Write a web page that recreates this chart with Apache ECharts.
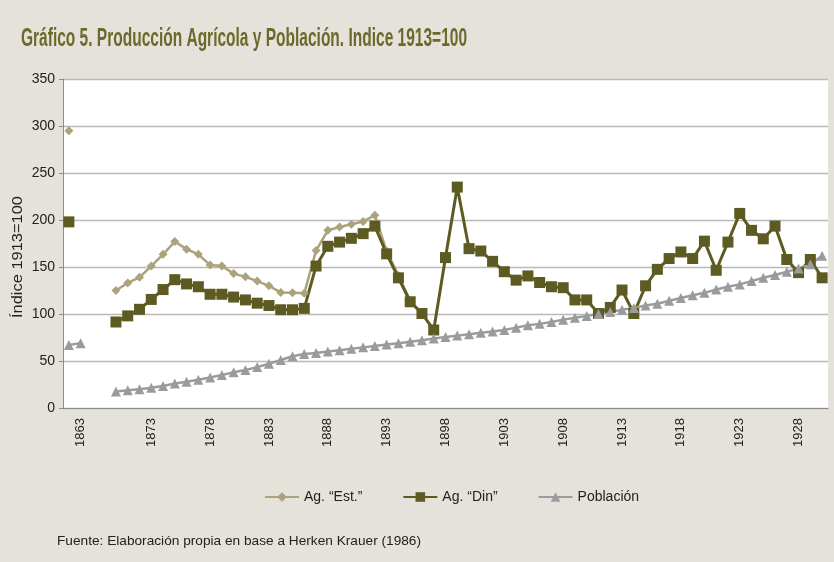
<!DOCTYPE html>
<html>
<head>
<meta charset="utf-8">
<script src="https://cdn.jsdelivr.net/npm/echarts@6/dist/echarts.min.js"></script>
<style>
  html, body { margin: 0; padding: 0; background: #e4e2da; }
  #chart { width: 834px; height: 562px; }
</style>
</head>
<body>
<div id="chart"></div>
<script>
// categorias (años); 1864 y 1869 sin datos
const years = ['1862', '1863', '1864', '1869',
  '1870', '1871', '1872', '1873', '1874', '1875', '1876', '1877', '1878', '1879',
  '1880', '1881', '1882', '1883', '1884', '1885', '1886', '1887', '1888', '1889',
  '1890', '1891', '1892', '1893', '1894', '1895', '1896', '1897', '1898', '1899',
  '1900', '1901', '1902', '1903', '1904', '1905', '1906', '1907', '1908', '1909',
  '1910', '1911', '1912', '1913', '1914', '1915', '1916', '1917', '1918', '1919',
  '1920', '1921', '1922', '1923', '1924', '1925', '1926', '1927', '1928', '1929',
  '1930']
const labelYears = ['1863', '1873', '1878', '1883', '1888', '1893', '1898',
  '1903', '1908', '1913', '1918', '1923', '1928']

const agEst = [295, null, null, null,
  125, 133, 139, 151, 163.5, 177, 169, 163.5, 152, 151,
  143, 139.5, 135, 130, 123, 122.5, 122, 167.5, 189, 192.5,
  195.5, 198.5, 205, 167, 141, 114, 101, null, null, null,
  null, null, null, null, null, null, null, null, null, null,
  null, null, null, null, null, null, null, null, null, null,
  null, null, null, null, null, null, null, null, null, null,
  null]
const agDin = [198, null, null, null,
  91.5, 98, 105, 115.5, 126, 136.5, 132, 129, 121, 121,
  118, 115, 111.5, 109, 104.5, 104.5, 106, 151, 172, 176.5,
  180.5, 185.5, 193.5, 164, 138.5, 113, 100.5, 83, 160, 235,
  169.5, 167, 156, 145, 136, 140.5, 133.5, 129, 128, 115,
  115, 100.5, 107, 125.5, 100.5, 130, 147.5, 159, 166, 159,
  177.5, 146.5, 176.5, 207, 189, 180, 193.5, 158, 144, 158,
  138.5]
const poblacion = [67, 69, null, null,
  17.5, 19, 20, 21.5, 23.5, 26, 28, 30, 32.5, 35,
  38, 40.5, 43.5, 47, 51, 55, 57.5, 58.5, 60, 61.5,
  63, 64.5, 66, 67.5, 69, 70.5, 72, 74, 75.5, 77,
  78.5, 80, 81.5, 83, 85.5, 88, 89.5, 91.5, 94, 96,
  98, 100, 102, 104.5, 106.5, 109, 111, 114, 117, 120,
  122.5, 126, 129, 131.5, 135, 138.5, 141.5, 145, 148.5, 153,
  162]

const titulo = 'Gráfico 5. Producción Agrícola y Población. Indice 1913=100'
const fuente = 'Fuente: Elaboración propia en base a Herken Krauer (1986)'
const ejeY = 'Índice 1913=100'

const fontFam = '"Liberation Sans", Arial, sans-serif'

// ancho de texto para comprimir (la fuente original es condensada)
function fitScale (text, font, target) {
  let ctx = document.createElement('canvas').getContext('2d')
  ctx.font = font
  return target / ctx.measureText(text).width
}

const titleFont = 'bold 25px ' + fontFam
const footFont = '13px ' + fontFam
const nameFont = '14px ' + fontFam

let myChart = echarts.init(document.getElementById('chart'))
let option = {
  backgroundColor: '#e4e2da',
  animation: false,
  textStyle: { fontFamily: fontFam },
  grid: {
    show: true,
    backgroundColor: '#fff',
    borderWidth: 0,
    left: 63,
    right: 6,
    top: 79,
    bottom: 154
  },
  legend: {
    left: 259,
    top: 485,
    itemWidth: 34,
    itemHeight: 12,
    itemGap: 40,
    textStyle: { fontSize: 14, color: '#222' },
    data: ['Ag. “Est.”', 'Ag. “Din”', 'Población']
  },
  xAxis: {
    type: 'category',
    data: years,
    boundaryGap: true,
    axisLine: { lineStyle: { color: '#8c8c8c', width: 1 } },
    axisTick: { interval: 0, length: 4, lineStyle: { color: '#8c8c8c' } },
    axisLabel: {
      rotate: 90,
      margin: 10,
      fontSize: 13,
      color: '#222',
      interval: function (idx, val) { return labelYears.indexOf(val) >= 0 }
    }
  },
  yAxis: {
    type: 'value',
    min: 0,
    max: 350,
    interval: 50,
    axisLine: { show: true, lineStyle: { color: '#8c8c8c', width: 1 } },
    axisTick: { show: true, length: 4, lineStyle: { color: '#8c8c8c' } },
    axisLabel: { fontSize: 14, color: '#222', margin: 8 },
    splitLine: { lineStyle: { color: '#b9b9b9', width: 1.3 } }
  },
  graphic: [
    {
      type: 'text', x: 21, y: 39,
      scaleX: fitScale(titulo, titleFont, 446),
      style: { text: titulo, font: titleFont, fill: '#6b6a2b', verticalAlign: 'middle' }
    },
    {
      type: 'text', x: 57, y: 541,
      scaleX: fitScale(fuente, footFont, 364),
      style: { text: fuente, font: footFont, fill: '#222', verticalAlign: 'middle' }
    },
    {
      type: 'text', x: 18, y: 257, rotation: Math.PI / 2,
      scaleX: fitScale(ejeY, nameFont, 122),
      style: { text: ejeY, font: nameFont, fill: '#222', align: 'center', verticalAlign: 'middle' }
    }
  ],
  series: [
    {
      name: 'Ag. “Est.”',
      type: 'line',
      data: agEst,
      symbol: 'diamond',
      symbolSize: 9,
      showAllSymbol: true,
      lineStyle: { width: 2.5, color: '#aca27b' },
      itemStyle: { color: '#aca27b' }
    },
    {
      name: 'Ag. “Din”',
      type: 'line',
      data: agDin,
      symbol: 'rect',
      symbolSize: 11,
      showAllSymbol: true,
      lineStyle: { width: 3, color: '#5d5b22' },
      itemStyle: { color: '#5d5b22' }
    },
    {
      name: 'Población',
      type: 'line',
      data: poblacion,
      symbol: 'triangle',
      symbolSize: 10,
      showAllSymbol: true,
      lineStyle: { width: 2.5, color: '#9b9b9f' },
      itemStyle: { color: '#9b9b9f' }
    }
  ]
}
myChart.setOption(option)
</script>
</body>
</html>
